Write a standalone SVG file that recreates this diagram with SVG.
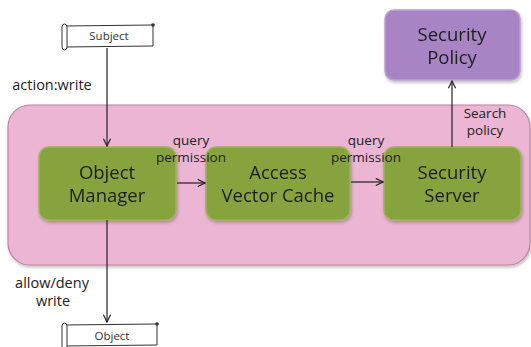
<svg xmlns="http://www.w3.org/2000/svg" width="531" height="347" viewBox="0 0 531 347">
  <defs>
    <marker id="arr" viewBox="0 0 10 10" refX="9" refY="5" markerWidth="9" markerHeight="9" markerUnits="userSpaceOnUse" orient="auto">
      <path d="M1,1 L9,5 L1,9" fill="none" stroke="#222" stroke-width="1.3"/>
    </marker>
    <filter id="sh" x="-10%" y="-10%" width="120%" height="130%">
      <feDropShadow dx="1" dy="2" stdDeviation="1.5" flood-color="#000" flood-opacity="0.25"/>
    </filter>
  </defs>
  <style>
    .frame { fill: #ebb5d3; stroke: #c0829f; stroke-width: 1.2; }
    .green { fill: #87a33d; stroke: #9bb55a; stroke-width: 1.5; }
    .purple { fill: #a984c4; stroke: #bda0d2; stroke-width: 1.5; }
    .big { font-family: "Open Sans", "Liberation Sans", sans-serif; font-size: 18.5px; fill: #1e1e1e; text-anchor: middle; }
    .lbl { font-family: "Open Sans", "Liberation Sans", sans-serif; font-size: 13.5px; fill: #222; text-anchor: middle; }
    .side { font-size: 14.5px; }
    .tag { font-family: "Open Sans", "Liberation Sans", sans-serif; font-size: 11.5px; fill: #333; text-anchor: middle; }
    .scroll { fill: #fff; stroke: #333; stroke-width: 1; }
    .edge { fill: none; stroke: #222; stroke-width: 1.2; marker-end: url(#arr); }
  </style>

  <!-- outer container -->
  <rect class="frame" x="8" y="105" width="522" height="160" rx="22" filter="url(#sh)"/>

  <g id="subject">
    <path class="scroll" d="M64,26 L153,25 L153,46 L64,47 Z"/>
    <path class="scroll" d="M62,27 Q62,24 64.5,24 Q67,24 67,27 L67,47 Q67,50 64.5,50 Q62,50 62,47 Z"/>
    <circle cx="153" cy="25" r="1.8" fill="#333"/>
    <text class="tag" x="109" y="40">Subject</text>
  </g>

  <g id="object">
    <path class="scroll" d="M64,325 L157,324 L157,345 L64,346 Z"/>
    <path class="scroll" d="M62,326 Q62,323 64.5,323 Q67,323 67,326 L67,346 Q67,349 64.5,349 Q62,349 62,346 Z"/>
    <circle cx="157" cy="324" r="1.8" fill="#333"/>
    <text class="tag" x="112" y="340">Object</text>
  </g>

  <g id="object-manager" filter="url(#sh)">
    <rect class="green" x="39" y="147" width="137" height="73" rx="10"/>
    <text class="big" x="107" y="179">Object</text>
    <text class="big" x="107" y="202">Manager</text>
  </g>

  <g id="access-vector-cache" filter="url(#sh)">
    <rect class="green" x="206" y="147" width="144" height="73" rx="10"/>
    <text class="big" x="278" y="179">Access</text>
    <text class="big" x="278" y="202">Vector Cache</text>
  </g>

  <g id="security-server" filter="url(#sh)">
    <rect class="green" x="384" y="147" width="137" height="73" rx="10"/>
    <text class="big" x="452" y="179">Security</text>
    <text class="big" x="452" y="202">Server</text>
  </g>

  <g id="security-policy" filter="url(#sh)">
    <rect class="purple" x="385" y="10" width="135" height="70" rx="9"/>
    <text class="big" x="452" y="41">Security</text>
    <text class="big" x="452" y="64">Policy</text>
  </g>

  <g id="connectors">
    <line class="edge" x1="107" y1="48" x2="107" y2="146"/>
    <line class="edge" x1="177" y1="183" x2="205" y2="183"/>
    <line class="edge" x1="351" y1="182" x2="383" y2="182"/>
    <line class="edge" x1="452" y1="147" x2="452" y2="81"/>
    <line class="edge" x1="107" y1="220" x2="107" y2="322"/>
  </g>

  <g id="labels">
    <text class="lbl side" x="52" y="90">action:write</text>
    <text class="lbl" x="191" y="145">query</text>
    <text class="lbl" x="191" y="162">permission</text>
    <text class="lbl" x="366" y="145">query</text>
    <text class="lbl" x="366" y="162">permission</text>
    <text class="lbl" x="485" y="118">Search</text>
    <text class="lbl" x="485" y="135">policy</text>
    <text class="lbl side" x="52" y="288">allow/deny</text>
    <text class="lbl side" x="53" y="306">write</text>
  </g>
</svg>
